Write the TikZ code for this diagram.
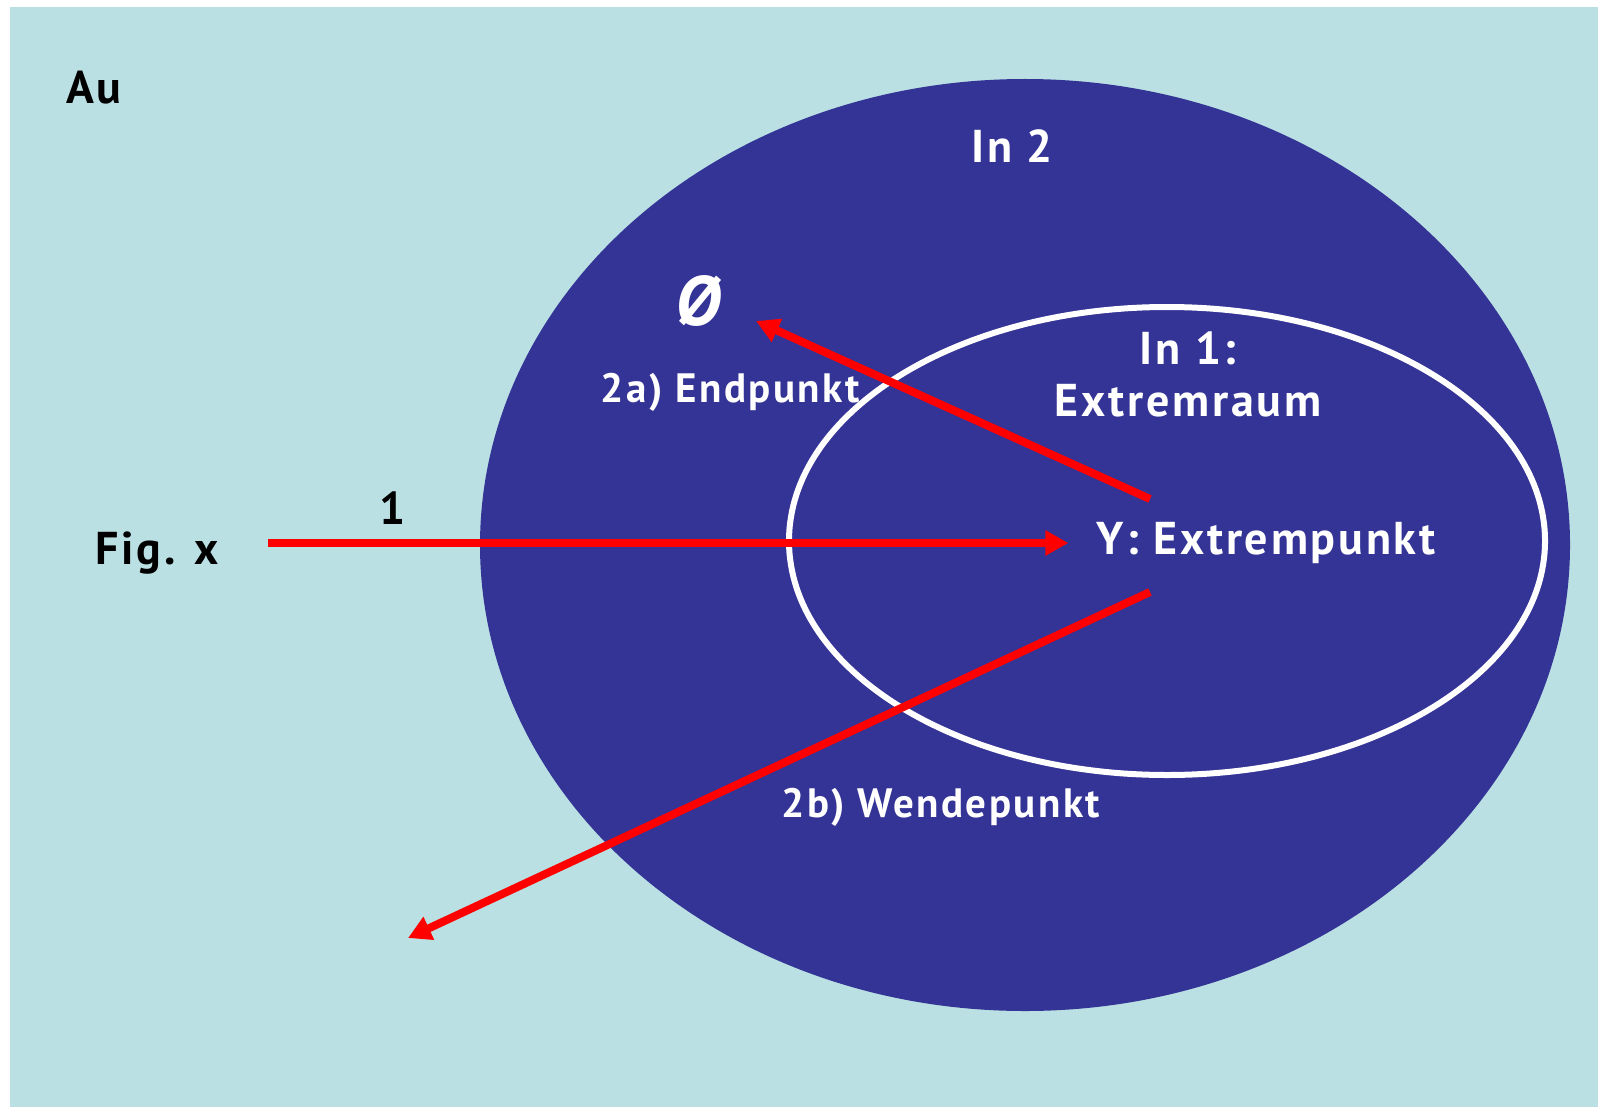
\documentclass[tikz,border=0pt]{standalone}
\usepackage{fontspec}
\setmainfont{PT Sans}[LetterSpace=6]
\usetikzlibrary{arrows.meta}
\definecolor{exrSky}{HTML}{BAE0E3}
\definecolor{exrNavy}{HTML}{343396}
\definecolor{exrRed}{HTML}{FF0000}
\tikzset{
  exr field/.style={fill=exrSky, draw=none},
  exr outer/.style={fill=exrNavy, draw=none},
  exr inner/.style={draw=white, line width=3pt},
  exr arrow/.style={draw=exrRed, line width=4pt, -{Triangle[length=11.5pt,width=12pt]}},
  exr label/.style={font=\bfseries\fontsize{23}{26}\selectfont, text=black, inner sep=0pt},
  exr white/.style={font=\bfseries\fontsize{23}{26}\selectfont, text=white, inner sep=0pt},
  exr small/.style={font=\bfseries\fontsize{20.5}{23}\selectfont, text=white, inner sep=0pt},
}

\begin{document}
\begin{tikzpicture}[x=0.5pt,y=-0.5pt]
  \useasboundingbox (0,0) rectangle (1598,1107);
  \fill[exr field] (10,7) rectangle (1598,1107);
  \fill[exr outer] (1025,545) ellipse [x radius=272.5pt, y radius=233pt];
  \draw[exr inner] (1167,541) ellipse [x radius=189pt, y radius=117pt];

  % labels
  \node[exr label] (au) at (94,88) {Au};
  \node[exr label] (fig) at (157,553) {Fig. x};
  \node[exr label] (one) at (393,508) {1};
  \node[exr white] (in2) at (1012,146) {In 2};
  \node[exr white, align=center] (in1) at (1188,374) {In 1:\\Extremraum};
  \node[exr white] (ypt) at (1266,543) {Y: Extrempunkt};
  \node[exr small] (endpt) at (730,392) {2a) Endpunkt};
  \node[exr small] (wendept) at (941,807) {2b) Wendepunkt};
  \node[exr white, font=\bfseries\itshape\fontsize{35}{37}\selectfont] (empty) at (698,301) {Ø};

  % arrows
  \coordinate (start) at (268,543);
  \coordinate (ypt up) at (1150,499);
  \coordinate (ypt down) at (1150,592);
  \coordinate (empty tip) at (756,321);
  \coordinate (lost) at (408,938);
  \draw[exr arrow, shorten >=14pt] (start) -- (ypt.west);
  \draw[exr arrow] (ypt up) -- (empty tip);
  \draw[exr arrow] (ypt down) -- (lost);
\end{tikzpicture}
\end{document}
